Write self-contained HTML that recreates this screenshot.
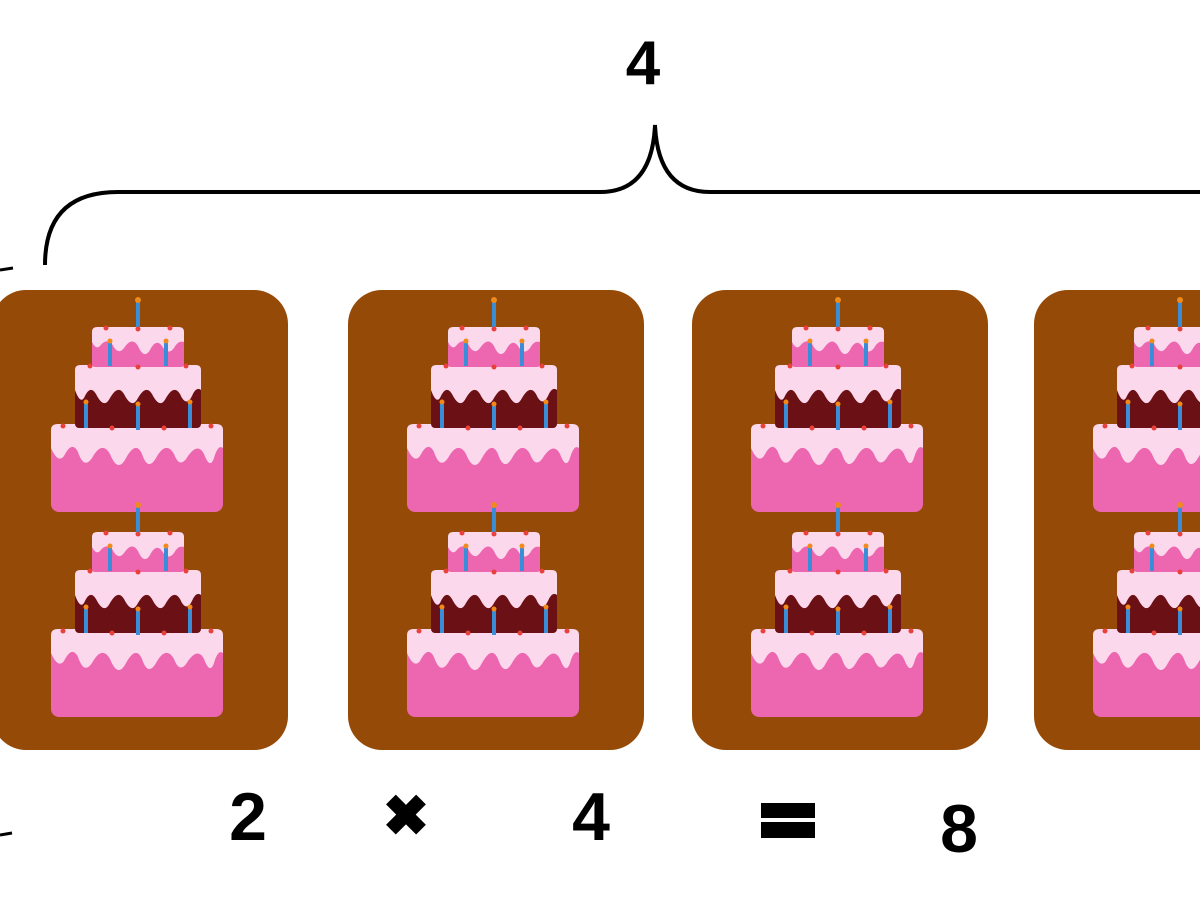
<!DOCTYPE html>
<html><head><meta charset="utf-8"><style>
html,body{margin:0;padding:0;background:#fff;width:1200px;height:900px;overflow:hidden}
svg text{font-family:"Liberation Sans",sans-serif;font-weight:bold;fill:#000}
</style></head><body>
<svg width="1200" height="900" viewBox="0 0 1200 900">
<defs>
<g id="cake">
  <!-- top candle -->
  <rect x="-2" y="3" width="4" height="28" fill="#3a8ed8"/>
  <circle cx="0" cy="2" r="3" fill="#f08a1a"/>
  <!-- bottom tier -->
  <rect x="-87" y="126" width="172" height="88" rx="8" fill="#ec66b0"/>
  <path d="M-87 132 Q-87 126 -80 126 L78 126 Q85 126 85 132 L85 150 Q80 146 76 160 Q72 172 66 156 Q60 144 50 158 Q42 172 36 156 Q28 142 18 160 Q10 174 4 156 Q-2 142 -12 160 Q-20 176 -28 156 Q-36 142 -46 160 Q-54 172 -60 154 Q-66 142 -74 158 Q-80 166 -87 150 Z" fill="#fbd8ec"/>
  <!-- middle tier -->
  <rect x="-63" y="70" width="126" height="60" rx="4" fill="#6b1014"/>
  <path d="M-63 72 Q-63 67 -58 67 L58 67 Q63 67 63 72 L63 92 Q58 88 54 98 Q48 110 42 96 Q36 86 28 100 Q22 112 14 96 Q8 86 0 100 Q-6 112 -14 96 Q-20 86 -28 100 Q-34 112 -42 96 Q-48 86 -54 100 Q-58 106 -63 92 Z" fill="#fbd8ec"/>
  <!-- top tier -->
  <rect x="-46" y="32" width="92" height="37" rx="3" fill="#ec66b0"/>
  <path d="M-46 34 Q-46 29 -41 29 L41 29 Q46 29 46 34 L46 44 Q40 42 36 50 Q30 58 24 48 Q18 40 12 52 Q6 62 0 48 Q-6 38 -14 50 Q-20 58 -26 46 Q-32 40 -38 48 Q-42 52 -46 44 Z" fill="#fbd8ec"/>
  <!-- cherries -->
  <g fill="#e8403a">
   <circle cx="-32" cy="30" r="2.5"/><circle cx="0" cy="31" r="2.5"/><circle cx="32" cy="30" r="2.5"/>
   <circle cx="-48" cy="68" r="2.5"/><circle cx="0" cy="69" r="2.5"/><circle cx="48" cy="68" r="2.5"/>
   <circle cx="-75" cy="128" r="2.5"/><circle cx="-26" cy="130" r="2.5"/><circle cx="26" cy="130" r="2.5"/><circle cx="73" cy="128" r="2.5"/>
  </g>
  <!-- candles -->
  <g fill="#3a8ed8">
   <rect x="-30" y="45" width="4" height="23"/><rect x="26" y="45" width="4" height="23"/>
   <rect x="-54" y="106" width="4" height="24"/><rect x="-2" y="108" width="4" height="24"/><rect x="50" y="106" width="4" height="24"/>
  </g>
  <g fill="#f08a1a">
   <circle cx="-28" cy="43" r="2.5"/><circle cx="28" cy="43" r="2.5"/>
   <circle cx="-52" cy="104" r="2.5"/><circle cx="0" cy="106" r="2.5"/><circle cx="52" cy="104" r="2.5"/>
  </g>
</g>
<g id="card">
  <rect x="0" y="0" width="296" height="460" rx="34" fill="#954a07"/>
  <use href="#cake" x="146" y="8"/>
  <use href="#cake" x="146" y="213"/>
</g>
</defs>

<text x="643" y="84" font-size="62" text-anchor="middle">4</text>
<path d="M45 265 Q45 192 118 192 L600 192 Q652 192 655 125 Q658 192 710 192 L1200 192" fill="none" stroke="#000" stroke-width="4"/>
<line x1="0" y1="270" x2="13" y2="268" stroke="#000" stroke-width="3"/>
<line x1="0" y1="835" x2="12" y2="833" stroke="#000" stroke-width="3"/>

<use href="#card" x="-8" y="290"/>
<use href="#card" x="348" y="290"/>
<use href="#card" x="692" y="290"/>
<use href="#card" x="1034" y="290"/>

<text x="248" y="840" font-size="68" text-anchor="middle">2</text>
<text x="406" y="835" font-size="56" text-anchor="middle">✖</text>
<text x="591" y="840" font-size="68" text-anchor="middle">4</text>
<rect x="761" y="803" width="54" height="15" fill="#000"/>
<rect x="761" y="822" width="54" height="16" fill="#000"/>
<text x="959" y="852" font-size="68" text-anchor="middle">8</text>
</svg>
</body></html>
